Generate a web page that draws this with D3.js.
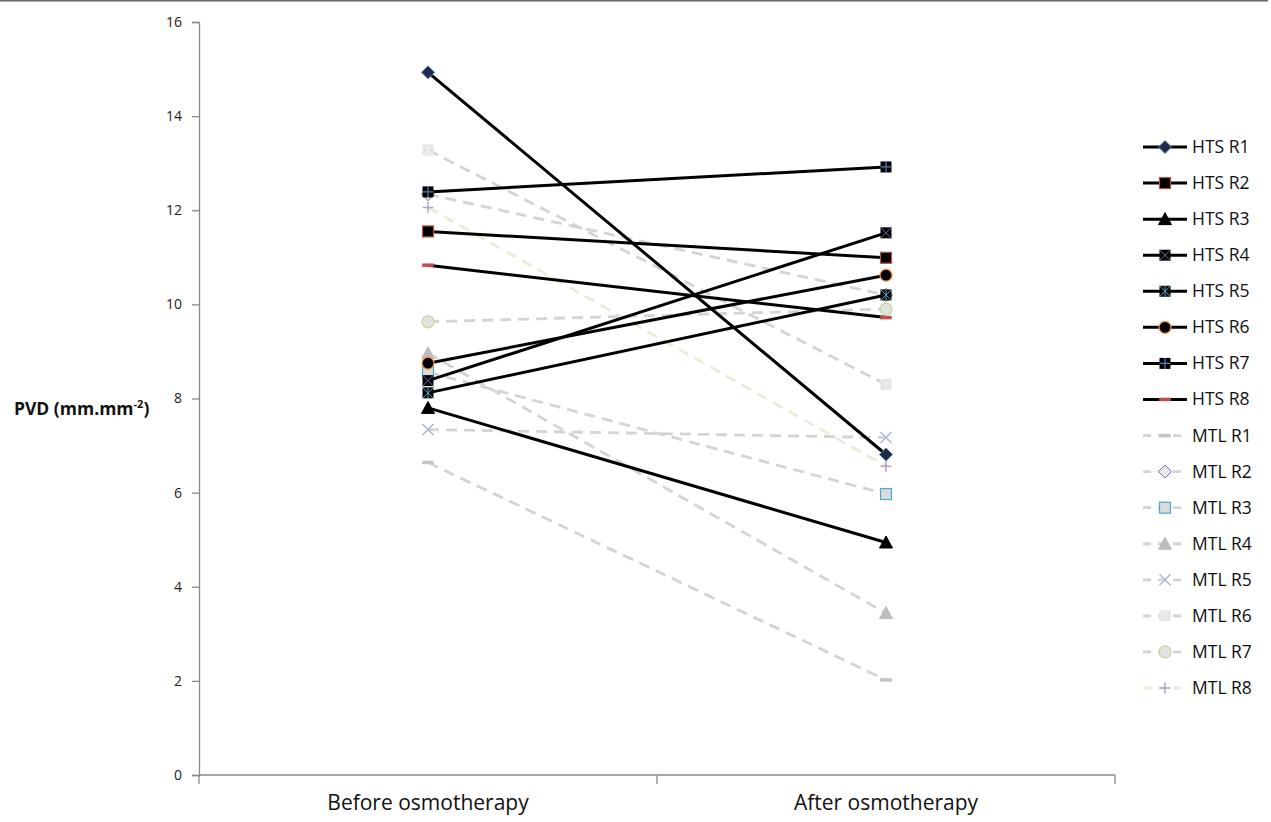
<!DOCTYPE html>
<html><head><meta charset="utf-8">
<script src="https://cdn.jsdelivr.net/npm/d3@7"></script>
<style>body{margin:0;background:#fff}svg{display:block}</style>
</head><body>
<script>
const categories = ["Before osmotherapy", "After osmotherapy"];
const yTicks = [0, 2, 4, 6, 8, 10, 12, 14, 16];
const seriesNames = ["HTS R1","HTS R2","HTS R3","HTS R4","HTS R5","HTS R6","HTS R7","HTS R8",
                     "MTL R1","MTL R2","MTL R3","MTL R4","MTL R5","MTL R6","MTL R7","MTL R8"];
const beforeValues = [14.93, 11.55, 7.80, 8.38, 8.12, 8.75, 12.39, 10.83,
                      6.64, 12.34, 8.56, 8.96, 7.34, 13.28, 9.63, 12.06];
const afterValues  = [6.81, 10.99, 4.94, 11.52, 10.20, 10.62, 12.92, 9.72,
                      2.02, 10.20, 5.97, 3.44, 7.17, 8.30, 9.90, 6.56];
const markerTypes = ["diamond","square","triangle","squareX","squareStar","circle","squarePlus","dash",
                     "dash","diamond","square","triangle","x","squareStar","circle","plus"];

const W = 1271, H = 822;
const svg = d3.select("body").append("svg").attr("width", W).attr("height", H);
svg.append("line").attr("x1",0).attr("x2",1268).attr("y1",0.5).attr("y2",0.5).attr("stroke","#666").attr("stroke-width",2);

const x = d3.scaleBand().domain(categories).range([199, 1115]);
const y = d3.scaleLinear().domain([0, 16]).range([775, 22]);
const font = "'Open Sans', 'DejaVu Sans', sans-serif";

// axes
const ya = svg.append("g").attr("transform","translate(199,0)")
  .call(d3.axisLeft(y).tickValues(yTicks).tickSize(7).tickPadding(10));
ya.select(".domain").attr("stroke","#888").attr("stroke-width",1.3);
ya.selectAll(".tick line").attr("stroke","#888").attr("stroke-width",1.3);
ya.selectAll(".tick text").attr("font-family",font).attr("font-size",14).attr("fill","#222");

const xa = svg.append("g").attr("transform","translate(0,775)")
  .call(d3.axisBottom(x).tickSize(0).tickPadding(20));
xa.select(".domain").attr("stroke","#888").attr("stroke-width",1.3).attr("d","M199,0H1115");
xa.selectAll(".tick text").attr("font-family",font).attr("font-size",21).attr("fill","#111");
// boundary ticks
const bounds = [199, 657, 1115];
xa.selectAll("line.b").data(bounds).enter().append("line")
  .attr("x1",d=>d).attr("x2",d=>d).attr("y1",0).attr("y2",9).attr("stroke","#888").attr("stroke-width",1.3);

svg.append("text").attr("x",14).attr("y",415).attr("font-family",font).attr("font-weight","bold")
  .attr("font-size",17.5).attr("fill","#111")
  .html('PVD (mm.mm<tspan dy="-7" font-size="11">-2</tspan><tspan dy="7">)</tspan>');

// styles
const lineColors = d3.range(16).map(i => i < 8 ? "#000" : (i === 15 ? "#ecebd8" : "#d4d4d4"));
const mk = [
  {fill:"#1f2b47", stroke:"#4f81bd"},
  {fill:"#000", stroke:"#c0504d"},
  {fill:"#000", stroke:"#000"},
  {fill:"#000", stroke:"#8064a2"},
  {fill:"#000", stroke:"#4bacc6"},
  {fill:"#000", stroke:"#f79646"},
  {fill:"#000", stroke:"#4f81bd"},
  {fill:"#c0504d", stroke:"#c0504d"},
  {fill:"#c4c4c4", stroke:"#c4c4c4"},
  {fill:"#e8e8ee", stroke:"#8064a2"},
  {fill:"#dadada", stroke:"#4bacc6"},
  {fill:"#bdbdbd", stroke:"#bdbdbd"},
  {fill:"none", stroke:"#aab4d4"},
  {fill:"#e4e4e4", stroke:"#f2f2f2"},
  {fill:"#e2e2e2", stroke:"#c3d69b"},
  {fill:"none", stroke:"#b2a2c7"}
];

function drawMarker(g, type, s, cx, cy) {
  const m = g.append("g").attr("transform", `translate(${cx},${cy})`);
  const r = 5.5;
  if (type === "diamond") {
    m.append("path").attr("d", `M0,${-r-1}L${r+1},0L0,${r+1}L${-r-1},0Z`).attr("fill", s.fill).attr("stroke", s.stroke).attr("stroke-width",1);
  } else if (type === "square") {
    m.append("rect").attr("x",-r).attr("y",-r).attr("width",2*r).attr("height",2*r).attr("fill",s.fill).attr("stroke",s.stroke).attr("stroke-width",1.2);
  } else if (type === "triangle") {
    m.append("path").attr("d", `M0,${-r-1}L${r+1},${r}L${-r-1},${r}Z`).attr("fill", s.fill).attr("stroke", s.stroke);
  } else if (type === "squareX") {
    m.append("rect").attr("x",-r).attr("y",-r).attr("width",2*r).attr("height",2*r).attr("fill",s.fill);
    m.append("path").attr("d",`M${-r},${-r}L${r},${r}M${r},${-r}L${-r},${r}`).attr("stroke",s.stroke).attr("stroke-width",1);
  } else if (type === "squareStar") {
    m.append("rect").attr("x",-r).attr("y",-r).attr("width",2*r).attr("height",2*r).attr("fill",s.fill);
    m.append("path").attr("d",`M${-r},${-r}L${r},${r}M${r},${-r}L${-r},${r}M0,${-r}L0,${r}`).attr("stroke",s.stroke).attr("stroke-width",1);
  } else if (type === "circle") {
    m.append("circle").attr("r",r+0.5).attr("fill",s.fill).attr("stroke",s.stroke).attr("stroke-width",1.2);
  } else if (type === "squarePlus") {
    m.append("rect").attr("x",-r).attr("y",-r).attr("width",2*r).attr("height",2*r).attr("fill",s.fill);
    m.append("path").attr("d",`M0,${-r}L0,${r}M${-r},0L${r},0`).attr("stroke",s.stroke).attr("stroke-width",1.2);
  } else if (type === "dash") {
    m.append("rect").attr("x",-r).attr("y",-1.5).attr("width",2*r).attr("height",3).attr("fill",s.fill).attr("stroke",s.stroke).attr("stroke-width",0.5);
  } else if (type === "x") {
    m.append("path").attr("d",`M${-r},${-r}L${r},${r}M${r},${-r}L${-r},${r}`).attr("stroke",s.stroke).attr("stroke-width",1.5);
  } else if (type === "plus") {
    m.append("path").attr("d",`M0,${-r}L0,${r}M${-r},0L${r},0`).attr("stroke",s.stroke).attr("stroke-width",1.5);
  }
}

const cx = c => x(c) + x.bandwidth()/2;
const line = d3.line().x(d => cx(d[0])).y(d => y(d[1]));
const plot = svg.append("g");
// draw MTL first (behind), then HTS
const order = d3.range(8, 16).reverse().concat(d3.range(0, 8).reverse());
order.forEach(i => {
  const pts = [[categories[0], beforeValues[i]], [categories[1], afterValues[i]]];
  plot.append("path").attr("d", line(pts)).attr("fill","none")
    .attr("stroke", lineColors[i]).attr("stroke-width", i < 8 ? 3 : 2.8)
    .attr("stroke-dasharray", i < 8 ? null : "11,7");
  pts.forEach(p => drawMarker(plot, markerTypes[i], mk[i], cx(p[0]), y(p[1])));
});

// legend
const leg = svg.append("g");
const ly = d3.scalePoint().domain(seriesNames).range([147, 688]);
seriesNames.forEach((n, i) => {
  const yy = ly(n);
  if (i < 8) {
    leg.append("line").attr("x1",1143).attr("x2",1187).attr("y1",yy).attr("y2",yy).attr("stroke","#000").attr("stroke-width",3);
  } else {
    leg.append("line").attr("x1",1143).attr("x2",1187).attr("y1",yy).attr("y2",yy).attr("stroke",lineColors[i]).attr("stroke-width",2.8).attr("stroke-dasharray","8,7");
  }
  drawMarker(leg, markerTypes[i], mk[i], 1165, yy);
  leg.append("text").attr("x",1192).attr("y",yy+6).attr("font-family",font).attr("font-size",17.5).attr("fill","#111").text(n);
});
</script>
</body></html>
